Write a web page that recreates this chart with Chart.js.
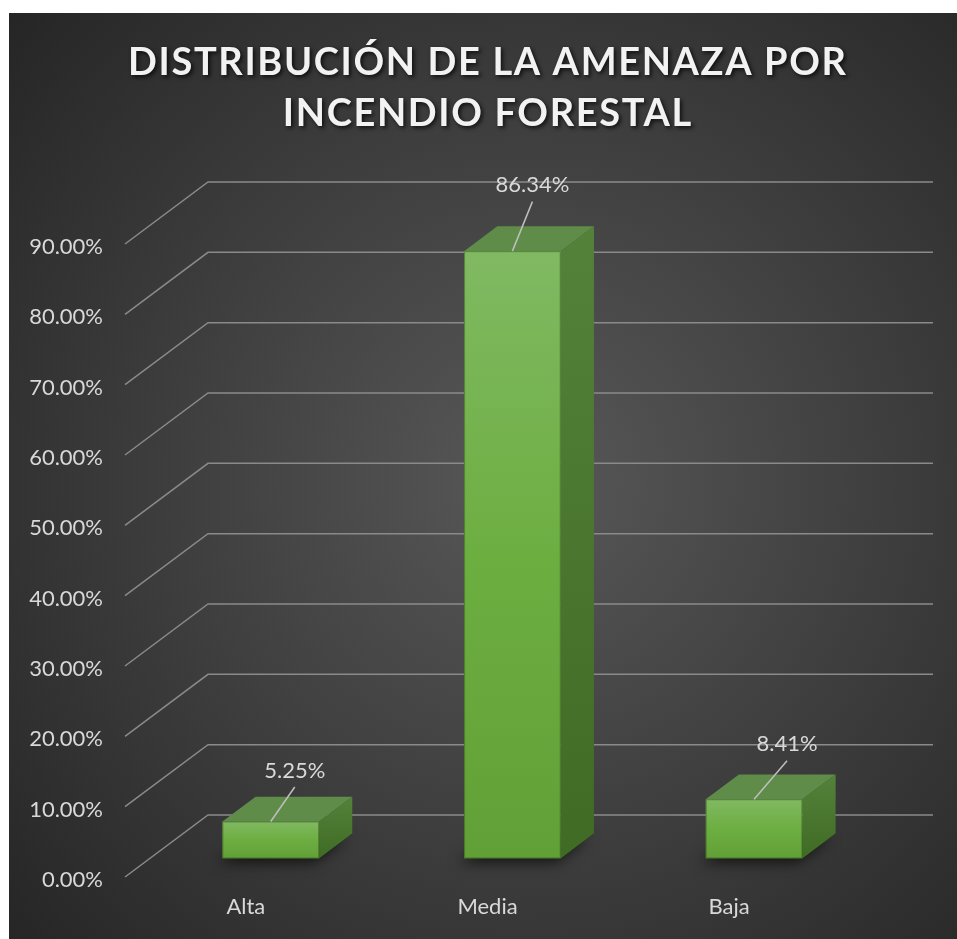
<!DOCTYPE html>
<html>
<head>
<meta charset="utf-8">
<title>Amenaza por incendio forestal</title>
<script src="https://cdn.jsdelivr.net/npm/chart.js@4.4.0/dist/chart.umd.min.js"></script>
<style>
  html, body { margin: 0; padding: 0; background: #fff; }
  canvas { display: block; }
</style>
</head>
<body>
<canvas id="myChart" width="957" height="939"></canvas>
<script>
// datos de la grafica
const categorias = ["Alta", "Media", "Baja"];
const porcentajes = [5.25, 86.34, 8.41];
const tituloLineas = ["DISTRIBUCIÓN DE LA AMENAZA POR", "INCENDIO FORESTAL"];
const yMin = 0, yMax = 90, yPaso = 10;

// where each value label sits relative to the top of its bar (px), dragged by hand in excel
const etiquetaNudge = [[24, -51], [20, -66], [33, -55]];

const FUENTE = "Lato, 'Open Sans', sans-serif";
const TEXTO = "#d9d9d9";
const PROF = { x: 83, y: -62 };          // depth of the 3d walls
const BAR_FRENTE = 0.3, BAR_FONDO = 0.7;  // bars sit in the middle of the depth

const pct = v => v.toFixed(2) + "%";

// white page + dark radial panel
const fondo = {
  id: "fondo",
  beforeDraw(chart) {
    const ctx = chart.ctx;
    ctx.save();
    ctx.fillStyle = "#fff";
    ctx.fillRect(0, 0, chart.width, chart.height);
    const g = ctx.createRadialGradient(530, 480, 0, 530, 480, 690);
    g.addColorStop(0, "#585858");
    g.addColorStop(1, "#262626");
    ctx.fillStyle = g;
    ctx.fillRect(9, 13, chart.width - 9, chart.height - 13);
    ctx.restore();
  }
};

// title drawn by hand so the letters can be spread out
const titulo = {
  id: "titulo",
  afterDraw(chart) {
    const ctx = chart.ctx;
    ctx.save();
    ctx.font = "bold 38px " + FUENTE;
    ctx.letterSpacing = "0px";
    const w0 = ctx.measureText(tituloLineas[0]).width;
    const sp = Math.max(0, (718 - w0) / (tituloLineas[0].length - 1));
    ctx.letterSpacing = sp + "px";
    ctx.fillStyle = "#f2f2f2";
    ctx.shadowColor = "rgba(0,0,0,0.75)";
    ctx.shadowBlur = 4;
    ctx.shadowOffsetX = 2;
    ctx.shadowOffsetY = 2;
    ctx.textAlign = "left";
    ctx.textBaseline = "alphabetic";
    const cx = 487;
    const bases = [75, 126];
    tituloLineas.forEach((t, i) => {
      const w = ctx.measureText(t).width - sp;
      ctx.fillText(t, cx - w / 2, bases[i]);
    });
    ctx.restore();
  }
};

// back wall + side wall gridlines
const paredes = {
  id: "paredes",
  beforeDatasetsDraw(chart) {
    const { ctx, chartArea: a, scales: { y } } = chart;
    ctx.save();
    ctx.strokeStyle = "#8a8a8a";
    ctx.lineWidth = 1.5;
    y.ticks.forEach(t => {
      const py = y.getPixelForValue(t.value);
      ctx.beginPath();
      ctx.moveTo(a.left, py);
      ctx.lineTo(a.left + PROF.x, py + PROF.y);
      ctx.lineTo(a.right + PROF.x, py + PROF.y);
      ctx.stroke();
    });
    ctx.restore();
  }
};

function poly(ctx, pts) {
  ctx.beginPath();
  ctx.moveTo(pts[0][0], pts[0][1]);
  for (let k = 1; k < pts.length; k++) ctx.lineTo(pts[k][0], pts[k][1]);
  ctx.closePath();
}

// turns the flat bars into boxes, then puts the value labels with leader lines
const cajas = {
  id: "cajas",
  afterDatasetsDraw(chart) {
    const ctx = chart.ctx;
    const meta = chart.getDatasetMeta(0);
    const fx = PROF.x * BAR_FRENTE, fy = PROF.y * BAR_FRENTE;
    const dx = PROF.x * (BAR_FONDO - BAR_FRENTE), dy = PROF.y * (BAR_FONDO - BAR_FRENTE);

    meta.data.forEach((bar, i) => {
      const { x, y, base, width } = bar.getProps(["x", "y", "base", "width"], true);
      const L = x - width / 2 + fx, R = x + width / 2 + fx;
      const T = y + fy, B = base + fy;

      ctx.save();
      // shadow on the floor
      ctx.shadowColor = "rgba(0,0,0,0.9)";
      ctx.shadowBlur = 14;
      ctx.shadowOffsetX = -5;
      ctx.shadowOffsetY = 4;
      ctx.fillStyle = "rgba(0,0,0,0.75)";
      poly(ctx, [[L, B], [R, B], [R + dx, B + dy], [L + dx, B + dy]]);
      ctx.fill();
      ctx.restore();

      ctx.save();
      // right side
      const gs = ctx.createLinearGradient(0, T + dy, 0, B);
      gs.addColorStop(0, "#55823b");
      gs.addColorStop(1, "#3f6b25");
      ctx.fillStyle = gs;
      poly(ctx, [[R, T], [R + dx, T + dy], [R + dx, B + dy], [R, B]]);
      ctx.fill();

      // top
      ctx.fillStyle = "#5f8c48";
      poly(ctx, [[L, T], [R, T], [R + dx, T + dy], [L + dx, T + dy]]);
      ctx.fill();

      // front
      const gf = ctx.createLinearGradient(0, T, 0, B);
      gf.addColorStop(0, "#80b962");
      gf.addColorStop(0.5, "#6dae41");
      gf.addColorStop(1, "#61a036");
      ctx.fillStyle = gf;
      ctx.fillRect(L, T, R - L, B - T);
      ctx.strokeStyle = "rgba(60,100,35,0.6)";
      ctx.lineWidth = 1;
      ctx.strokeRect(L + 0.5, T + 0.5, R - L - 1, B - T - 1);

      // value label + leader
      const cx = (L + R) / 2;
      const lx = cx + etiquetaNudge[i][0], ly = T + etiquetaNudge[i][1];
      ctx.strokeStyle = "#bfbfbf";
      ctx.lineWidth = 1.5;
      ctx.beginPath();
      ctx.moveTo(lx, ly + 16.5);
      ctx.lineTo(cx, T);
      ctx.stroke();
      ctx.fillStyle = TEXTO;
      ctx.font = "22px " + FUENTE;
      ctx.textAlign = "center";
      ctx.textBaseline = "middle";
      ctx.fillText(pct(porcentajes[i]), lx, ly);
      ctx.restore();
    });
  }
};

let myChart = document.getElementById("myChart").getContext("2d");
var chart = new Chart(myChart, {
  type: "bar",
  data: {
    labels: categorias,
    datasets: [{
      label: "Amenaza",
      data: porcentajes,
      backgroundColor: "rgba(0,0,0,0)", // boxes are painted by the cajas plugin
      borderWidth: 0,
      barPercentage: 0.4,
      categoryPercentage: 1
    }]
  },
  options: {
    responsive: false,
    animation: false,
    devicePixelRatio: 1,
    layout: { padding: { top: 244, right: 107, bottom: 0, left: 0 } },
    plugins: {
      legend: { display: false },
      title: { display: false },
      tooltip: { enabled: false }
    },
    scales: {
      x: {
        grid: { display: false, drawTicks: false },
        border: { display: false },
        ticks: { color: TEXTO, font: { family: FUENTE, size: 22 }, padding: 17 },
        afterFit(s) { s.height = 62; }
      },
      y: {
        min: yMin,
        max: yMax,
        grid: { display: false, drawTicks: false },
        border: { display: false },
        ticks: {
          stepSize: yPaso,
          color: TEXTO,
          font: { family: FUENTE, size: 22 },
          padding: 22,
          labelOffset: 3,
          callback: v => pct(v)
        },
        afterFit(s) { s.width = 125; }
      }
    }
  },
  plugins: [fondo, paredes, cajas, titulo]
});
</script>
</body>
</html>
